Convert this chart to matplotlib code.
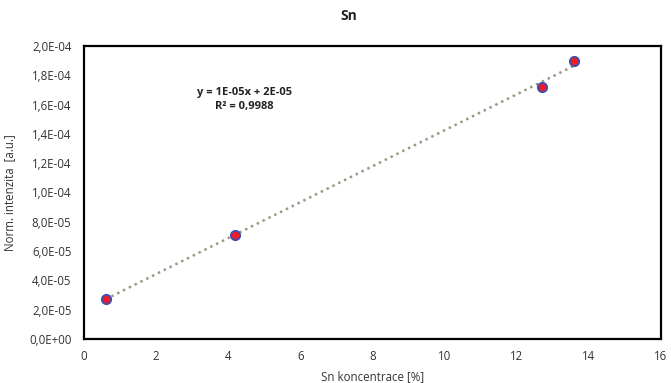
import matplotlib
matplotlib.use('Agg')
import matplotlib.pyplot as plt
import numpy as np
from matplotlib.ticker import FuncFormatter

# Sn concentration [%] vs normalised intensity
conc = [0.6, 4.2, 12.7, 13.6]
intensity = [2.75e-5, 7.1e-5, 1.72e-4, 1.90e-4]

plt.rcParams['font.family'] = ['Open Sans', 'DejaVu Sans']

fig = plt.figure(figsize=(6.71, 3.83), dpi=100)
ax = fig.add_axes([0.125, 0.115, 0.86, 0.765])

# linear trend line
k, q = np.polyfit(conc, intensity, 1)
xs = np.array([min(conc), max(conc)])
ax.plot(xs, k * xs + q, linestyle=(0, (1, 1.6)), color="#9e9787", linewidth=1.8, zorder=2)

ax.scatter(conc, intensity, s=45, color="#ee1c25", edgecolor="#3a4fb5",
           linewidth=1.3, zorder=3)

ax.text(4.45, 1.635e-4, "y = 1E-05x + 2E-05\nR² = 0,9988", ha="center", va="center",
        fontsize=8, fontweight="bold", linespacing=1.3, color="#222222")

ax.set_xlim(0, 16)
ax.set_ylim(0, 2e-4)
ax.set_xticks(np.arange(0, 17, 2))
ax.set_yticks(np.arange(0, 2.01e-4, 2e-5))
ax.yaxis.set_major_formatter(FuncFormatter(lambda v, p: f"{v:.1E}".replace(".", ",")))
ax.tick_params(length=0, labelsize=8.3, pad=9, colors="#333333")
ax.tick_params(axis="x", pad=8)

for s in ax.spines.values():
    s.set_linewidth(1.6)
    s.set_color("black")

ax.set_xlabel("Sn koncentrace [%]", fontsize=8.3, color="#333333", labelpad=5)
ax.set_ylabel("Norm. intenzita  [a.u.]", fontsize=8.3, color="#333333", labelpad=9)
fig.text(0.52, 0.958, "Sn", ha="center", va="center", fontsize=10, fontweight="bold",
         color="#222222")

fig.savefig("out.png", dpi=100)
